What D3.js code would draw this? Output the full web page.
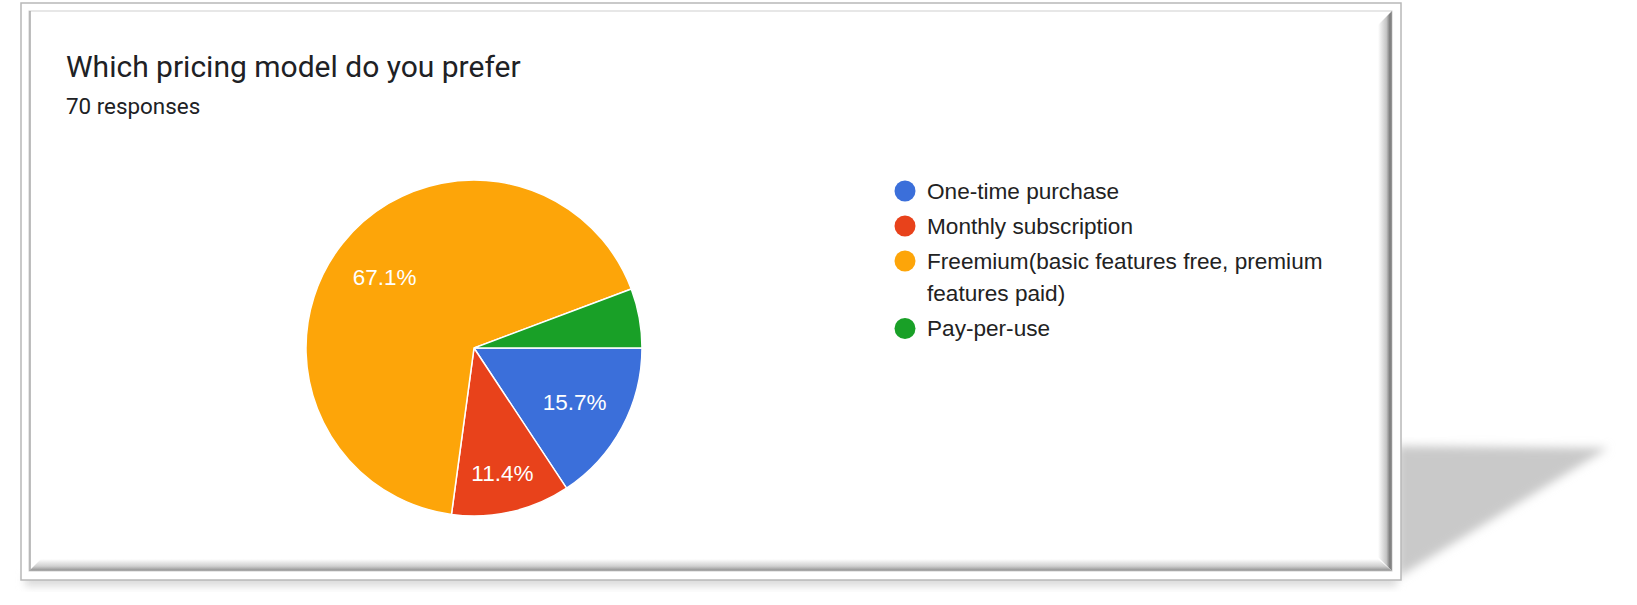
<!DOCTYPE html>
<html>
<head>
<meta charset="utf-8">
<script src="https://cdn.jsdelivr.net/npm/d3@7"></script>
<style>
  body { margin: 0; background: #fff; }
  svg { display: block; }
</style>
</head>
<body>
<svg id="chart" width="1637" height="605"></svg>
<script>
// Data
const categories = ['One-time purchase', 'Monthly subscription', 'Freemium(basic features free, premium features paid)', 'Pay-per-use'];
const responses = [11, 8, 47, 4];
const colors = ['#3b6fda', '#e8421b', '#fda509', '#19a027'];
const title = 'Which pricing model do you prefer';
const subtitle = '70 responses';

const svg = d3.select('#chart');
const defs = svg.append('defs');

// Shadow filter for the frame
defs.append('filter').attr('id', 'blur').attr('x', '-20%').attr('y', '-20%').attr('width', '140%').attr('height', '140%')
  .append('feGaussianBlur').attr('stdDeviation', 5);
defs.append('filter').attr('id', 'blurSmall').attr('x', '-5%').attr('y', '-50%').attr('width', '110%').attr('height', '200%')
  .append('feGaussianBlur').attr('stdDeviation', 4);

function grad(id, x1, y1, x2, y2, stops) {
  const g = defs.append('linearGradient').attr('id', id)
    .attr('x1', x1).attr('y1', y1).attr('x2', x2).attr('y2', y2);
  stops.forEach(s => g.append('stop').attr('offset', s[0]).attr('stop-color', s[1]));
}
grad('bevelRight', 0, 0, 1, 0, [[0, '#ffffff'], [0.6, '#c4c4c4'], [0.85, '#7a7a7a'], [1, '#9a9a9a']]);
grad('bevelBottom', 0, 0, 0, 1, [[0, '#ffffff'], [0.6, '#cfcfcf'], [0.9, '#9c9c9c'], [1, '#b0b0b0']]);

// Frame geometry
const outer = { x0: 21, y0: 3, x1: 1401, y1: 580 };
const inner = { x0: 29, y0: 11, x1: 1392, y1: 571 };

// Perspective shadow behind the frame
svg.append('polygon')
  .attr('points', [[outer.x1 - 4, 446], [1608, 448], [outer.x1 - 4, 578]].join(' '))
  .attr('fill', '#c9c9c9')
  .attr('filter', 'url(#blur)');
svg.append('rect')
  .attr('x', outer.x0 + 4).attr('y', outer.y1 - 6)
  .attr('width', outer.x1 - outer.x0 - 8).attr('height', 12)
  .attr('fill', '#d8d8d8')
  .attr('filter', 'url(#blurSmall)');

// Outer frame
svg.append('rect')
  .attr('x', outer.x0).attr('y', outer.y0)
  .attr('width', outer.x1 - outer.x0).attr('height', outer.y1 - outer.y0)
  .attr('fill', '#fff').attr('stroke', '#b8b8b8').attr('stroke-width', 1.5);

// Inner bevel
svg.append('rect')
  .attr('x', inner.x0).attr('y', inner.y0)
  .attr('width', inner.x1 - inner.x0).attr('height', inner.y1 - inner.y0)
  .attr('fill', '#fff').attr('stroke', '#d0d0d0').attr('stroke-width', 1);
svg.append('polygon')
  .attr('points', [[inner.x1 - 14, inner.y0 + 14], [inner.x1, inner.y0], [inner.x1, inner.y1], [inner.x1 - 14, inner.y1 - 14]].join(' '))
  .attr('fill', 'url(#bevelRight)');
svg.append('polygon')
  .attr('points', [[inner.x0, inner.y1], [inner.x0 + 12, inner.y1 - 12], [inner.x1 - 14, inner.y1 - 12], [inner.x1, inner.y1]].join(' '))
  .attr('fill', 'url(#bevelBottom)');
svg.append('line')
  .attr('x1', inner.x0 + 1).attr('y1', inner.y0).attr('x2', inner.x0 + 1).attr('y2', inner.y1)
  .attr('stroke', '#a8a8a8').attr('stroke-width', 1.5);

// Title
svg.append('text')
  .attr('x', 66).attr('y', 77)
  .attr('font-family', 'Roboto, sans-serif').attr('font-size', 30)
  .attr('fill', '#202124')
  .text(title);
svg.append('text')
  .attr('x', 66).attr('y', 114)
  .attr('font-family', 'Roboto, sans-serif').attr('font-size', 22.4)
  .attr('fill', '#202124')
  .text(subtitle);

// Pie
const cx = 474, cy = 348, radius = 168;
const total = d3.sum(responses);
const pie = d3.pie().sort(null)
  .startAngle(Math.PI / 2).endAngle(Math.PI / 2 + 2 * Math.PI);
const arcs = pie(responses);
const arc = d3.arc().innerRadius(0).outerRadius(radius);

const g = svg.append('g').attr('transform', `translate(${cx},${cy})`);
g.selectAll('path')
  .data(arcs)
  .enter()
  .append('path')
  .attr('d', arc)
  .attr('fill', (d, i) => colors[i])
  .attr('stroke', '#fff')
  .attr('stroke-width', 1.5);

// Labels (small slices skip the label, narrow ones sit a bit further out)
g.selectAll('text')
  .data(arcs.filter(d => d.endAngle - d.startAngle > 0.5))
  .enter()
  .append('text')
  .attr('transform', d => {
    const span = d.endAngle - d.startAngle;
    const r = radius * (span < 0.85 ? 0.76 : 0.68);
    const c = d3.arc().innerRadius(r).outerRadius(r).centroid(d);
    return `translate(${c[0]},${c[1]})`;
  })
  .attr('dy', '0.36em')
  .attr('text-anchor', 'middle')
  .attr('font-family', 'Arial, "Liberation Sans", sans-serif')
  .attr('font-size', 22.5)
  .attr('fill', '#fff')
  .text(d => (d.value / total * 100).toFixed(1) + '%');

// Legend
const legend = svg.append('g').attr('transform', 'translate(905,191)');
let ly = 0;
categories.forEach((name, i) => {
  const row = legend.append('g').attr('transform', `translate(0,${ly})`);
  row.append('circle').attr('r', 10.5).attr('fill', colors[i]);
  const t = row.append('text')
    .attr('x', 22)
    .attr('font-family', 'Arial, "Liberation Sans", sans-serif')
    .attr('font-size', 22.6)
    .attr('fill', '#222');
  // word wrap
  const words = name.split(' ');
  let line = [];
  let tspan = t.append('tspan').attr('x', 22).attr('y', 0).attr('dy', '0.34em');
  let lines = 1;
  words.forEach(w => {
    line.push(w);
    tspan.text(line.join(' '));
    if (tspan.node().getComputedTextLength() > 420 && line.length > 1) {
      line.pop();
      tspan.text(line.join(' '));
      line = [w];
      tspan = t.append('tspan').attr('x', 22).attr('y', 32.5 * lines).attr('dy', '0.34em').text(w);
      lines++;
    }
  });
  ly += 35 + (lines - 1) * 32.5;
});
</script>
</body>
</html>
